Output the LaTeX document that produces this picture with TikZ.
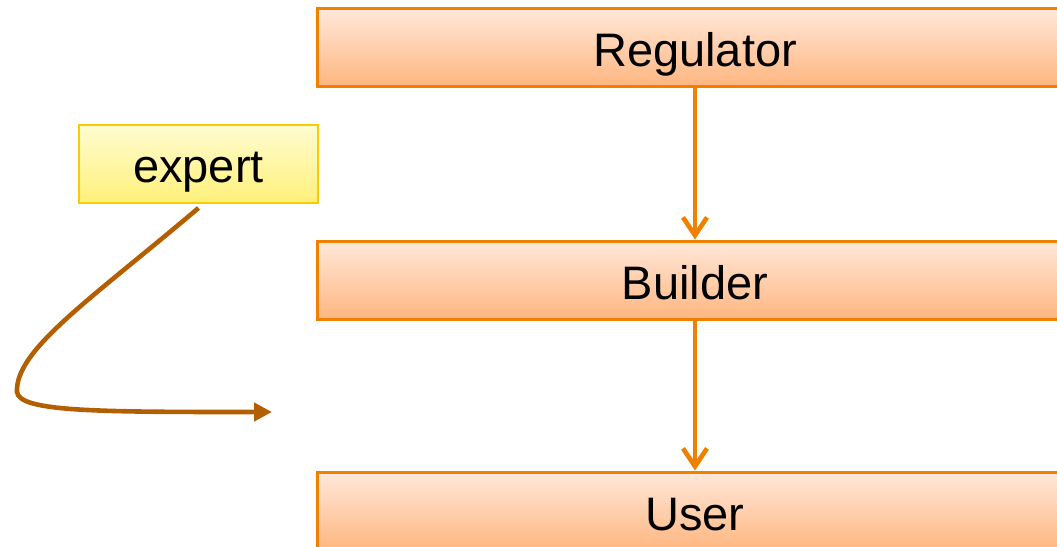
\documentclass[tikz,border=0pt]{standalone}
\usepackage{fontspec}
\setmainfont{Liberation Sans}
\usetikzlibrary{arrows.meta}
\definecolor{obord}{HTML}{F08000}
\definecolor{otop}{HTML}{FFE8DA}
\definecolor{obot}{HTML}{FFB680}
\definecolor{ybord}{HTML}{F8CC00}
\definecolor{ytop}{HTML}{FFFCD0}
\definecolor{ybot}{HTML}{FFF07A}
\definecolor{brown}{HTML}{B35F00}
\tikzset{
  obox/.style={draw=obord, line width=1.5pt, top color=otop, bottom color=obot,
    minimum width=378pt, minimum height=39pt, inner sep=0pt,
    text height=19.5pt, text depth=0pt,
    font=\fontsize{23.5}{28}\selectfont},
  ybox/.style={draw=ybord, line width=1pt, top color=ytop, bottom color=ybot,
    minimum width=119.5pt, minimum height=39pt, inner sep=0pt,
    text height=18.5pt, text depth=0pt,
    font=\fontsize{23.5}{28}\selectfont},
  flow/.style={draw=obord, line width=2.3pt, -{Straight Barb[length=9pt,width=12pt,line width=2.3pt]}},
  curv/.style={draw=brown, line width=2.3pt, -{Triangle[length=9pt,width=9pt]}}
}
\begin{document}
\begin{tikzpicture}[x=0.5pt,y=-0.5pt]
\useasboundingbox (0,0) rectangle (1057,547);
\clip (0,0) rectangle (1057,547);
\node[obox] (reg) at (695,47) {Regulator};
\node[obox] (bld) at (695,280) {Builder};
\node[obox] (usr) at (695,511) {User};
\node[ybox] (exp) at (198.5,164) {expert};
\coordinate (cend) at (272,412);
\draw[flow] (reg.south) -- (bld.north);
\draw[flow] (bld.south) -- (usr.north);
\draw[curv] ([yshift=-2pt]exp.south) .. controls (90,300) and (15,350) .. (17,392)
  .. controls (19,412) and (100,412) .. (cend);
\end{tikzpicture}
\end{document}
